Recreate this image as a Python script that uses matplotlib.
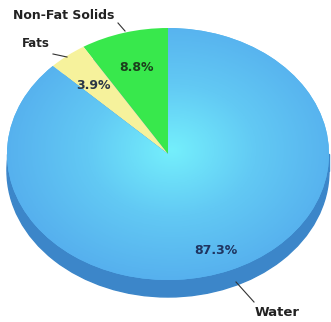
import numpy as np
import matplotlib.pyplot as plt
from matplotlib.patches import Ellipse, Rectangle
from matplotlib.transforms import Affine2D
from matplotlib.colors import LinearSegmentedColormap

labels = ['Non-Fat Solids', 'Fats', 'Water']
values = [8.8, 3.9, 87.3]
colors = ['#38e84c', '#f6f29c', '#5cb9f0']
pct_colors = ['#1c3f1c', '#2b3646', '#1f3460']

# pie geometry in pixel units
cx, cy = 168, 154
rx, ry = 161, 126
depth = 17

fig = plt.figure(figsize=(3.31, 3.22), dpi=100)
ax = fig.add_axes([0, 0, 1, 1])

wedges, _ = ax.pie(values, startangle=90, counterclock=True, colors=colors,
                   wedgeprops=dict(linewidth=0))
ax.set_aspect('auto')
ax.set_xlim(0, 331)
ax.set_ylim(322, 0)
ax.axis('off')

tr = Affine2D().scale(rx, -ry).translate(cx, cy) + ax.transData

# side of the disc
ax.add_patch(Ellipse((cx, cy + depth), 2 * rx, 2 * ry, color='#3c86c9', zorder=0))
ax.add_patch(Rectangle((cx - rx, cy), 2 * rx, depth, color='#3c86c9', zorder=0))

for w in wedges:
    w.set_transform(tr)
    w.set_zorder(1)

# radial shading on the water slice
gx, gy = np.meshgrid(np.linspace(0, 331, 200), np.linspace(0, 322, 200))
d = np.sqrt(((gx - 172) / rx) ** 2 + ((gy - 150) / ry) ** 2)
cmap = LinearSegmentedColormap.from_list('w', ['#74effc', '#62c9f4', '#56b0ee'])
im = ax.imshow(d, extent=(0, 331, 322, 0), cmap=cmap, vmin=0, vmax=1.05,
               zorder=2, aspect='auto')
im.set_clip_path(wedges[2])

# percent labels
pct_pos = [(137, 67), (93, 85), (216, 250)]
for v, (x, y), c in zip(values, pct_pos, pct_colors):
    ax.text(x, y, f'{v}%', ha='center', va='center', fontsize=9,
            fontweight='bold', color=c, zorder=5)

# category labels with leader lines
name_pos = [(64, 15), (36, 43), (277, 312)]
name_size = [9, 8.5, 9.5]
lines = [((118, 23), (125, 31)), ((53, 54), (67, 57)), ((236, 282), (254, 302))]
for name, (x, y), s, (p0, p1) in zip(labels, name_pos, name_size, lines):
    ax.text(x, y, name, ha='center', va='center', fontsize=s,
            fontweight='bold', color='#222222', zorder=5)
    ax.plot([p0[0], p1[0]], [p0[1], p1[1]], color='#333333', lw=0.8, zorder=5)

fig.savefig('out.png', dpi=100)
